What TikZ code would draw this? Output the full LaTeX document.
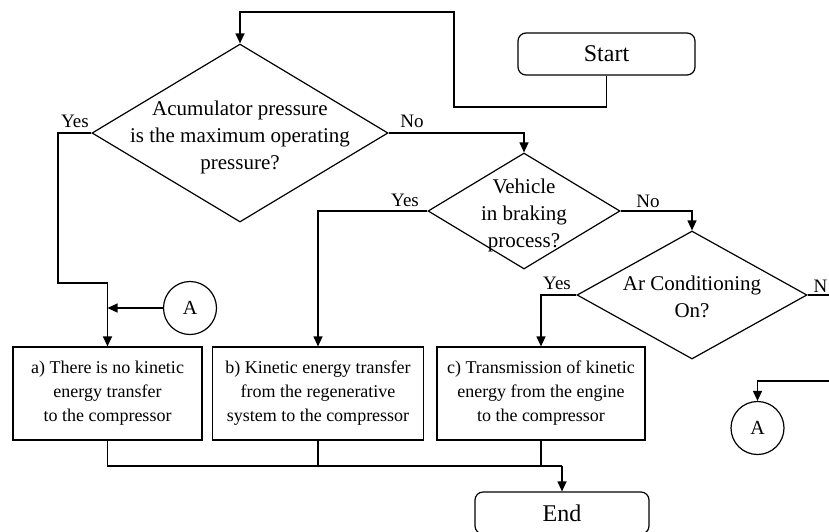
\documentclass[tikz,border=0pt]{standalone}
\usepackage{fontspec}
\setmainfont{Liberation Serif}
\usetikzlibrary{shapes.geometric,arrows.meta}

\begin{document}
\begin{tikzpicture}[x=1pt,y=-1pt,line width=1.2pt,
    flow/.style={-{Triangle[length=10pt,width=9pt]}},
    terminal/.style={draw,rounded corners=8pt,minimum height=42pt,inner sep=0pt,font=\fontsize{24}{28}\selectfont},
    decision/.style={draw,diamond,inner sep=0pt},
    qtext/.style={align=center,font=\fontsize{21}{27}\selectfont},
    action/.style={draw,minimum height=93pt,inner sep=0pt,align=center,font=\fontsize{18}{24}\selectfont},
    connector/.style={draw,circle,minimum size=53pt,inner sep=0pt,font=\fontsize{20}{24}\selectfont},
    answer/.style={anchor=base,font=\fontsize{19}{22}\selectfont}]
    \useasboundingbox (0,0) rectangle (829,531);
    \clip (0,0) rectangle (829,531);

    \node[terminal,minimum width=177pt] (start) at (606.5,54) {Start};
    \node[terminal,minimum width=174pt] (end) at (562,513) {End};

    \node[decision,minimum width=296pt,minimum height=178pt] (q1) at (240,133) {};
    \node[qtext] (q1txt) at (240,137) {Acumulator pressure\\is the maximum operating\\pressure?};
    \node[decision,minimum width=192pt,minimum height=116pt] (q2) at (524,211) {};
    \node[qtext] (q2txt) at (524,215) {Vehicle\\in braking\\process?};
    \node[decision,minimum width=230pt,minimum height=128pt] (q3) at (692,295) {};
    \node[qtext] (q3txt) at (692,297) {Ar Conditioning\\On?};

    \node[action,minimum width=189pt] (boxa) at (107.5,393.5) {a) There is no kinetic\\energy transfer\\to the compressor};
    \node[action,minimum width=211pt] (boxb) at (318,393.5) {b) Kinetic energy transfer\\from the regenerative\\system to the compressor};
    \node[action,minimum width=208pt] (boxc) at (541,393.5) {c) Transmission of kinetic\\energy from the engine\\to the compressor};

    \node[connector] (a1) at (190,308) {A};
    \node[connector] (a2) at (757.5,428) {A};

    \node[answer] (q1yes) at (75,127) {Yes};
    \node[answer] (q1no) at (412,127) {No};
    \node[answer] (q2yes) at (405,206) {Yes};
    \node[answer] (q2no) at (648,207) {No};
    \node[answer] (q3yes) at (557,289) {Yes};
    \node[answer,anchor=base west,inner xsep=0pt] (q3no) at (813,292) {N};

    \coordinate (loopa) at (454,107);
    \coordinate (loopb) at (454,12);
    \coordinate (q1bend) at (58,283);
    \coordinate (q3out) at (829,295);
    \coordinate (aright) at (829,381);
    \coordinate (merge) at (562,466);

    \draw[flow] (start.south) |- (loopa) -- (loopb) -| (q1.north);
    \draw[flow] (q1.west) -| (q1bend) -| (boxa.north);
    \draw[flow] (a1) -- (a1 -| boxa.north);
    \draw[flow] (q1.east) -| (q2.north);
    \draw[flow] (q2.west) -| (boxb.north);
    \draw[flow] (q2.east) -| (q3.north);
    \draw[flow] (q3.west) -| (boxc.north);
    \draw (q3.east) -- (q3out);
    \draw[flow] (aright) -| (a2.north);

    \draw (boxa.south) |- (merge);
    \draw (boxb.south) -- (boxb.south |- merge);
    \draw (boxc.south) -- (boxc.south |- merge);
    \draw[flow] (merge) -- (end.north);
\end{tikzpicture}
\end{document}
